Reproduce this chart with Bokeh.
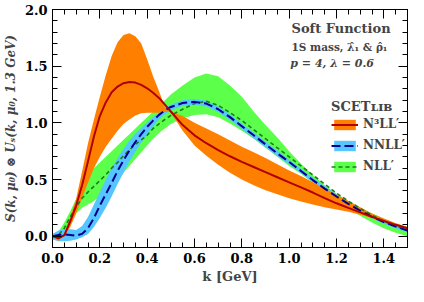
import numpy as np
from bokeh.plotting import figure
from bokeh.models import (Range1d, LinearAxis, Label, Legend, LegendItem, FixedTicker,
                          CustomJSTickFormatter)
from bokeh.embed import file_html
from bokeh.resources import INLINE

# ---------------- data ----------------
k = [0.0, 0.025, 0.05, 0.075, 0.1, 0.125, 0.15, 0.175, 0.2, 0.225, 0.25, 0.275, 0.3, 0.325,
     0.35, 0.375, 0.4, 0.425, 0.45, 0.475, 0.5, 0.55, 0.6, 0.65, 0.7, 0.75, 0.8, 0.85, 0.9,
     0.95, 1.0, 1.05, 1.1, 1.15, 1.2, 1.25, 1.3, 1.35, 1.4, 1.45, 1.5]

# N3LL'
n3ll_c = [0.0, -0.02, 0.01, 0.13, 0.27, 0.45, 0.66, 0.88, 1.06, 1.18, 1.27, 1.32, 1.35, 1.36,
          1.355, 1.335, 1.305, 1.265, 1.22, 1.16, 1.10, 0.98, 0.89, 0.82, 0.76, 0.705, 0.655,
          0.61, 0.565, 0.52, 0.475, 0.43, 0.385, 0.335, 0.29, 0.25, 0.21, 0.17, 0.135, 0.1, 0.07]
n3ll_a = [0.0, -0.04, 0.02, 0.17, 0.33, 0.57, 0.82, 1.03, 1.23, 1.42, 1.59, 1.71, 1.775, 1.79,
          1.765, 1.70, 1.56, 1.41, 1.28, 1.14, 1.09, 0.93, 0.80, 0.71, 0.63, 0.56, 0.50, 0.45,
          0.405, 0.37, 0.335, 0.305, 0.28, 0.255, 0.235, 0.215, 0.19, 0.16, 0.125, 0.095, 0.065]
n3ll_b = [0.0, -0.01, 0.0, 0.08, 0.2, 0.34, 0.47, 0.6, 0.7, 0.79, 0.86, 0.93, 0.99, 1.03,
          1.065, 1.085, 1.09, 1.09, 1.09, 1.095, 1.10, 1.06, 1.0, 0.95, 0.9, 0.845, 0.79, 0.74,
          0.69, 0.635, 0.58, 0.53, 0.475, 0.42, 0.365, 0.31, 0.255, 0.2, 0.155, 0.115, 0.08]

# NNLL'
nnll_c = [0.0, 0.01, 0.015, 0.01, 0.005, 0.02, 0.07, 0.16, 0.27, 0.37, 0.47, 0.575, 0.67, 0.755,
          0.83, 0.9, 0.965, 1.02, 1.07, 1.11, 1.14, 1.175, 1.185, 1.17, 1.12, 1.05, 0.97, 0.89,
          0.81, 0.73, 0.655, 0.575, 0.495, 0.42, 0.35, 0.285, 0.225, 0.17, 0.125, 0.085, 0.05]
nnll_hi = [0.02, 0.05, 0.06, 0.06, 0.055, 0.09, 0.17, 0.28, 0.39, 0.5, 0.6, 0.69, 0.77, 0.845,
           0.905, 0.955, 1.005, 1.05, 1.09, 1.13, 1.16, 1.2, 1.21, 1.195, 1.145, 1.075, 0.995,
           0.915, 0.835, 0.755, 0.675, 0.595, 0.515, 0.44, 0.37, 0.3, 0.24, 0.185, 0.14, 0.1, 0.065]
nnll_lo = [-0.03, -0.045, -0.045, -0.04, -0.03, -0.01, 0.02, 0.08, 0.16, 0.25, 0.35, 0.46, 0.56,
           0.66, 0.745, 0.825, 0.9, 0.97, 1.03, 1.075, 1.11, 1.15, 1.16, 1.145, 1.095, 1.025, 0.945,
           0.865, 0.785, 0.705, 0.635, 0.555, 0.475, 0.4, 0.33, 0.27, 0.21, 0.155, 0.11, 0.07, 0.035]

# NLL'
nll_c = [0.0, 0.01, 0.07, 0.17, 0.26, 0.335, 0.39, 0.44, 0.49, 0.54, 0.6, 0.65, 0.71, 0.76,
         0.81, 0.85, 0.89, 0.95, 0.99, 1.03, 1.065, 1.12, 1.17, 1.19, 1.155, 1.09, 1.02, 0.94,
         0.86, 0.78, 0.7, 0.62, 0.54, 0.46, 0.38, 0.31, 0.245, 0.185, 0.13, 0.09, 0.05]
nll_hi = [0.02, 0.04, 0.12, 0.22, 0.33, 0.44, 0.53, 0.6, 0.65, 0.7, 0.75, 0.8, 0.85, 0.9,
          0.95, 1.0, 1.05, 1.1, 1.15, 1.2, 1.25, 1.33, 1.4, 1.435, 1.41, 1.33, 1.23, 1.1,
          0.98, 0.87, 0.75, 0.64, 0.54, 0.45, 0.375, 0.31, 0.25, 0.2, 0.155, 0.115, 0.08]
nll_lo = [-0.02, -0.01, 0.03, 0.12, 0.2, 0.25, 0.28, 0.31, 0.35, 0.4, 0.45, 0.51, 0.56, 0.62,
          0.68, 0.74, 0.8, 0.86, 0.91, 0.95, 0.99, 1.04, 1.07, 1.075, 1.05, 0.995, 0.93, 0.86,
          0.78, 0.7, 0.62, 0.55, 0.47, 0.39, 0.31, 0.24, 0.18, 0.12, 0.07, 0.03, 0.0]

x_ticks = [0.0, 0.2, 0.4, 0.6, 0.8, 1.0, 1.2, 1.4]
y_ticks = [0.0, 0.5, 1.0, 1.5, 2.0]
series_names = ["N\u00b3LL\u2032", "NNLL\u2032", "NLL\u2032"]
legend_title = "SCET\u029f\u026a\u0299"
x_title = "k [GeV]"
y_title = "S(k, \u03bc\u2080) \u2297 U\u209b(k, \u03bc\u2080, 1.3 GeV)"

# ---------------- styling ----------------
FONT = "DejaVu Serif"
ORANGE = "#FF8000"
RED = "#B00000"
LBLUE = "#55C6FF"
DBLUE = "#00008C"
LGREEN = "#5CFF4A"
DGREEN = "#1A7F1A"

p = figure(width=408, height=286, x_range=Range1d(0, 1.5), y_range=Range1d(-0.1, 2.0),
           output_backend="svg", toolbar_location=None,
           min_border_left=48, min_border_right=1, min_border_top=9, min_border_bottom=36)
p.grid.visible = False
p.outline_line_color = "black"
p.background_fill_color = "white"
p.border_fill_color = "white"

x_minor = list(np.round(np.arange(0, 1.5001, 0.05), 3))
y_minor = list(np.round(np.arange(-0.1, 2.0001, 0.1), 3))

blank = CustomJSTickFormatter(code="return '';")
p.add_layout(LinearAxis(formatter=blank), "above")
p.add_layout(LinearAxis(formatter=blank), "right")

for ax in p.xaxis:
    ax.ticker = FixedTicker(ticks=x_ticks, minor_ticks=x_minor)
for ax in p.yaxis:
    ax.ticker = FixedTicker(ticks=y_ticks, minor_ticks=y_minor)

for ax in list(p.xaxis) + list(p.yaxis):
    ax.major_tick_in = 9
    ax.major_tick_out = 0
    ax.minor_tick_in = 5
    ax.minor_tick_out = 0
    ax.axis_line_color = "black"
    ax.major_tick_line_color = "black"
    ax.minor_tick_line_color = "black"
    ax.major_label_text_font = FONT
    ax.major_label_text_font_style = "bold"
    ax.major_label_text_font_size = "13px"
    ax.major_label_text_color = "black"

fmt = CustomJSTickFormatter(code="return tick.toFixed(1);")
p.below[0].formatter = fmt
p.left[0].formatter = fmt
p.below[0].major_label_standoff = 5
p.left[0].major_label_standoff = 5
for ax in (p.above[0], p.right[0]):
    ax.major_label_standoff = 0

p.left[0].axis_label = y_title
p.left[0].axis_label_text_font = FONT
p.left[0].axis_label_text_font_style = "bold italic"
p.left[0].axis_label_text_font_size = "12px"
p.left[0].axis_label_standoff = 4
p.below[0].axis_label = x_title
p.below[0].axis_label_text_font = FONT
p.below[0].axis_label_text_font_style = "bold"
p.below[0].axis_label_text_font_size = "13px"
p.below[0].axis_label_standoff = 3

# bands
g_band = p.varea(x=k, y1=nll_lo, y2=nll_hi, fill_color=LGREEN, fill_alpha=1.0)
b_band = p.varea(x=k, y1=nnll_lo, y2=nnll_hi, fill_color=LBLUE, fill_alpha=1.0)
o_band = p.varea(x=k, y1=n3ll_b, y2=n3ll_a, fill_color=ORANGE, fill_alpha=1.0)

g_line = p.line(x=k, y=nll_c, line_color=DGREEN, line_width=1.6, line_dash="4 3")
b_line = p.line(x=k, y=nnll_c, line_color=DBLUE, line_width=2.0, line_dash="9 4")
r_line = p.line(x=k, y=n3ll_c, line_color=RED, line_width=2.0)

legend = Legend(items=[
    LegendItem(label=series_names[0], renderers=[o_band, r_line]),
    LegendItem(label=series_names[1], renderers=[b_band, b_line]),
    LegendItem(label=series_names[2], renderers=[g_band, g_line]),
], location=(279, 74))
legend.title = legend_title
legend.title_text_font = FONT
legend.title_text_font_style = "bold"
legend.title_text_font_size = "13px"
legend.title_standoff = 3
legend.label_text_font = FONT
legend.label_text_font_style = "bold"
legend.label_text_font_size = "12px"
legend.glyph_width = 27
legend.glyph_height = 13
legend.label_height = 13
legend.label_standoff = 5
legend.spacing = 7
legend.padding = 0
legend.margin = 0
legend.border_line_color = None
legend.background_fill_alpha = 0
p.add_layout(legend, "center")

# annotations
p.add_layout(Label(x=1.01, y=1.835, text="Soft Function", text_font=FONT, text_font_style="bold",
                   text_font_size="13px", text_baseline="middle", text_align="left"))
p.add_layout(Label(x=1.01, y=1.67, text="1S mass, \u03bb\u0302\u2081 & \u03c1\u0302\u2081", text_font=FONT,
                   text_font_style="bold", text_font_size="10.5px", text_baseline="middle", text_align="left"))
p.add_layout(Label(x=1.005, y=1.52, text="p = 4, \u03bb = 0.6", text_font=FONT,
                   text_font_style="bold italic", text_font_size="11px", text_baseline="middle", text_align="left"))

open("out.html", "w").write(file_html(p, INLINE))
